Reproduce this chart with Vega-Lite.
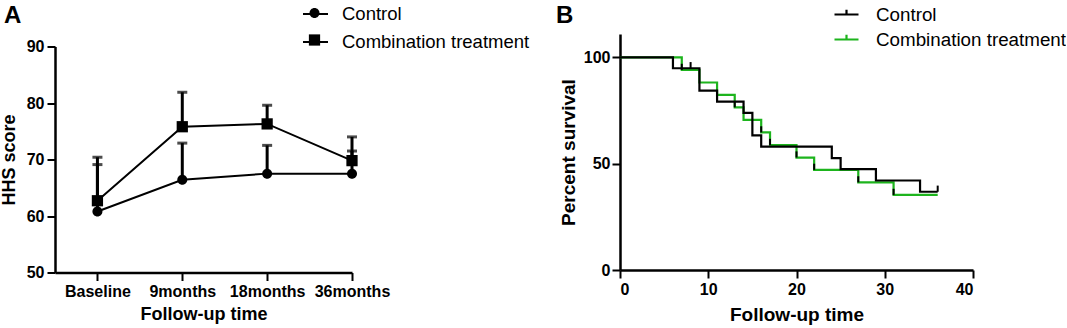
{
  "$schema": "https://vega.github.io/schema/vega-lite/v6.json",
  "padding": {"left": 0, "top": 0, "right": 0, "bottom": 0},
  "background": "white",
  "spacing": 26,
  "center": true,
  "resolve": {"scale": {"color": "independent", "shape": "independent"}, "legend": {"color": "independent", "shape": "independent"}},
  "config": {
    "font": "Liberation Sans",
    "view": {"stroke": null},
    "axis": {
      "grid": false,
      "domainColor": "black",
      "domainWidth": 2.5,
      "tickColor": "black",
      "tickWidth": 2,
      "tickSize": 8,
      "labelFont": "Liberation Sans",
      "labelFontWeight": "bold",
      "labelFontSize": 16,
      "labelColor": "black",
      "titleFont": "Liberation Sans",
      "titleFontWeight": "bold",
      "titleFontSize": 18,
      "titleColor": "black"
    },
    "legend": {
      "labelFont": "Liberation Sans",
      "labelFontSize": 18.5,
      "labelColor": "black",
      "labelLimit": 400
    }
  },
  "datasets": {
    "hhs": [
      {"group": "Control", "time": "Baseline", "mean": 60.8, "upper": 69.1},
      {"group": "Control", "time": "9months", "mean": 66.4, "upper": 72.9},
      {"group": "Control", "time": "18months", "mean": 67.5, "upper": 72.5},
      {"group": "Control", "time": "36months", "mean": 67.5, "upper": 71.5},
      {"group": "Combination treatment", "time": "Baseline", "mean": 62.7, "upper": 70.4},
      {"group": "Combination treatment", "time": "9months", "mean": 75.8, "upper": 81.9},
      {"group": "Combination treatment", "time": "18months", "mean": 76.3, "upper": 79.6},
      {"group": "Combination treatment", "time": "36months", "mean": 69.8, "upper": 74.0}
    ],
    "km": [
      {"group": "Combination treatment", "time": 0, "survival": 100},
      {"group": "Combination treatment", "time": 7, "survival": 94.1},
      {"group": "Combination treatment", "time": 9, "survival": 88.2},
      {"group": "Combination treatment", "time": 11, "survival": 82.4},
      {"group": "Combination treatment", "time": 13, "survival": 76.5},
      {"group": "Combination treatment", "time": 14, "survival": 70.6},
      {"group": "Combination treatment", "time": 16, "survival": 64.7},
      {"group": "Combination treatment", "time": 17, "survival": 58.8},
      {"group": "Combination treatment", "time": 20, "survival": 52.9},
      {"group": "Combination treatment", "time": 22, "survival": 47.1},
      {"group": "Combination treatment", "time": 27, "survival": 41.2},
      {"group": "Combination treatment", "time": 31, "survival": 35.3},
      {"group": "Combination treatment", "time": 36, "survival": 35.3},
      {"group": "Control", "time": 0, "survival": 100},
      {"group": "Control", "time": 6, "survival": 94.9},
      {"group": "Control", "time": 9, "survival": 84.4},
      {"group": "Control", "time": 11, "survival": 79.2},
      {"group": "Control", "time": 14, "survival": 73.9},
      {"group": "Control", "time": 15, "survival": 63.3},
      {"group": "Control", "time": 16, "survival": 58.0},
      {"group": "Control", "time": 24, "survival": 52.6},
      {"group": "Control", "time": 25, "survival": 47.4},
      {"group": "Control", "time": 29, "survival": 42.1},
      {"group": "Control", "time": 34, "survival": 36.8},
      {"group": "Control", "time": 36, "survival": 36.8}
    ],
    "ticks": [
      {"group": "Control", "time": 8, "low": 94.9, "high": 97.8},
      {"group": "Control", "time": 36, "low": 36.8, "high": 39.7},
      {"group": "Combination treatment", "time": 7, "low": 94.1, "high": 97.0},
      {"group": "Combination treatment", "time": 13, "low": 76.5, "high": 79.4},
      {"group": "Combination treatment", "time": 16, "low": 64.7, "high": 67.6},
      {"group": "Combination treatment", "time": 17, "low": 58.8, "high": 61.7},
      {"group": "Combination treatment", "time": 20, "low": 52.9, "high": 55.8},
      {"group": "Combination treatment", "time": 22, "low": 47.1, "high": 50.0},
      {"group": "Combination treatment", "time": 27, "low": 41.2, "high": 44.1},
      {"group": "Combination treatment", "time": 31, "low": 35.3, "high": 38.2}
    ]
  },
  "hconcat": [
    {
      "width": 297,
      "height": 226,
      "title": {"text": "A", "frame": "group", "anchor": "start", "orient": "top", "baseline": "alphabetic", "offset": -46, "dx": -51, "fontSize": 24, "fontWeight": "bold", "font": "Liberation Sans", "color": "black"},
      "data": {"name": "hhs"},
      "encoding": {
        "x": {
          "field": "time", "type": "ordinal",
          "sort": ["Baseline", "9months", "18months", "36months"],
          "scale": {"type": "point", "padding": 0.25, "align": 1},
          "axis": {"labelAngle": 0, "labelPadding": 3, "title": "Follow-up time", "titlePadding": 6}
        }
      },
      "layer": [
        {
          "mark": {"type": "rule", "color": "black", "strokeWidth": 3},
          "encoding": {
            "y": {"field": "mean", "type": "quantitative", "scale": {"domain": [50, 90], "nice": false, "zero": false},
              "axis": {"values": [50, 60, 70, 80, 90], "title": "HHS score", "labelPadding": 3, "titlePadding": 8}},
            "y2": {"field": "upper"}
          }
        },
        {
          "mark": {"type": "tick", "orient": "horizontal", "color": "black", "thickness": 3, "size": 10},
          "encoding": {"y": {"field": "upper", "type": "quantitative"}}
        },
        {
          "mark": {"type": "line", "strokeWidth": 2},
          "encoding": {
            "y": {"field": "mean", "type": "quantitative"},
            "color": {
              "field": "group", "type": "nominal",
              "sort": ["Control", "Combination treatment"],
              "scale": {"range": ["black", "black"]},
              "legend": {
                "title": null, "orient": "none", "legendX": 247, "legendY": -46,
                "symbolType": "stroke", "symbolSize": 625, "symbolStrokeWidth": 2,
                "rowPadding": 5, "labelOffset": 13
              }
            }
          }
        },
        {
          "mark": {"type": "point", "filled": true, "color": "black", "opacity": 1, "size": 625},
          "encoding": {
            "y": {"field": "mean", "type": "quantitative"},
            "shape": {
              "field": "group", "type": "nominal",
              "scale": {"domain": ["Control", "Combination treatment"],
                "range": ["M0.4,0A0.4,0.4,0,1,1,-0.4,0A0.4,0.4,0,1,1,0.4,0Z", "M-0.45,-0.45H0.45V0.45H-0.45Z"]},
              "legend": {
                "title": null, "orient": "none", "legendX": 247, "legendY": -46,
                "symbolSize": 625, "symbolFillColor": "black", "symbolStrokeWidth": 0,
                "rowPadding": 5, "labelOffset": 13, "labelOpacity": 0
              }
            }
          }
        }
      ]
    },
    {
      "width": 353,
      "height": 236,
      "title": {"text": "B", "frame": "group", "anchor": "start", "orient": "top", "baseline": "alphabetic", "offset": -46, "dx": -64, "fontSize": 24, "fontWeight": "bold", "font": "Liberation Sans", "color": "black"},
      "layer": [
        {
          "data": {"name": "km"},
          "mark": {"type": "line", "interpolate": "step-after", "strokeWidth": 2.2},
          "encoding": {
            "x": {"field": "time", "type": "quantitative", "scale": {"domain": [0, 40], "nice": false},
              "axis": {"values": [0, 10, 20, 30, 40], "title": ["Follow-up time", " "], "titleLineHeight": 12, "titleFontSize": 19, "labelPadding": 3, "titlePadding": 8}},
            "y": {"field": "survival", "type": "quantitative", "scale": {"domain": [0, 111], "nice": false},
              "axis": {"values": [0, 50, 100], "title": "Percent survival", "titleFontSize": 19, "labelPadding": 2, "titlePadding": 5}},
            "color": {
              "field": "group", "type": "nominal",
              "scale": {"domain": ["Control", "Combination treatment"], "range": ["black", "#1db41d"]},
              "legend": {
                "title": null, "orient": "none", "legendX": 213, "legendY": -33,
                "symbolType": "M-1,0H1M0,0V-0.4", "symbolSize": 576, "symbolStrokeWidth": 2.2,
                "rowPadding": 1, "labelOffset": 16, "labelFontSize": 18.8
              }
            },
            "order": {"field": "time", "type": "quantitative"}
          }
        },
        {
          "data": {"name": "ticks"},
          "mark": {"type": "rule", "color": "black", "strokeWidth": 2},
          "encoding": {
            "x": {"field": "time", "type": "quantitative"},
            "y": {"field": "low", "type": "quantitative"},
            "y2": {"field": "high"}
          }
        }
      ]
    }
  ]
}
